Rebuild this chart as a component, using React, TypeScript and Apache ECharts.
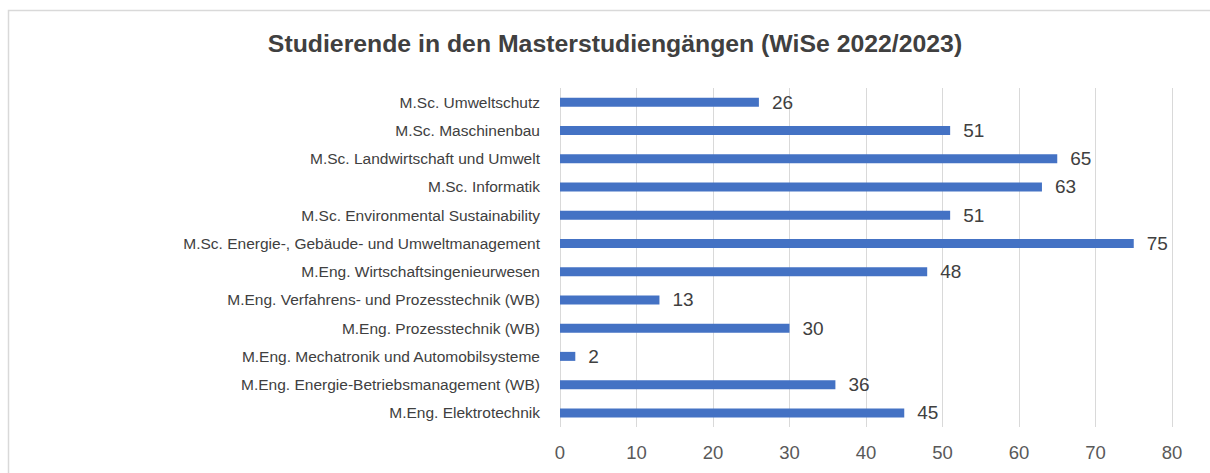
import React, { useEffect, useRef } from "react";
import * as echarts from "echarts";

const categories = [
  "M.Sc. Umweltschutz",
  "M.Sc. Maschinenbau",
  "M.Sc. Landwirtschaft und Umwelt",
  "M.Sc. Informatik",
  "M.Sc. Environmental Sustainability",
  "M.Sc. Energie-, Gebäude- und Umweltmanagement",
  "M.Eng. Wirtschaftsingenieurwesen",
  "M.Eng. Verfahrens- und Prozesstechnik (WB)",
  "M.Eng. Prozesstechnik (WB)",
  "M.Eng. Mechatronik und Automobilsysteme",
  "M.Eng. Energie-Betriebsmanagement (WB)",
  "M.Eng. Elektrotechnik",
];
const values = [26, 51, 65, 63, 51, 75, 48, 13, 30, 2, 36, 45];
const titleText = "Studierende in den Masterstudiengängen (WiSe 2022/2023)";

export default function App() {
  const ref = useRef<HTMLDivElement>(null);
  useEffect(() => {
    document.body.style.margin = "0";
    const chart = echarts.init(ref.current!, undefined, { renderer: "svg" });
    const font = "'Liberation Sans', Arial, Helvetica, sans-serif";
    chart.setOption({
      animation: false,
      backgroundColor: "#ffffff",
      textStyle: { fontFamily: font },
      graphic: [
        {
          type: "rect",
          shape: { x: 8.5, y: 10.5, width: 1300, height: 600 },
          style: { fill: "none", stroke: "#d9d9d9", lineWidth: 1.5 },
          silent: true,
          z: -1,
        },
      ],
      title: {
        text: titleText,
        left: 610,
        textAlign: "center",
        top: 26,
        textStyle: { fontFamily: font, fontSize: 24.8, fontWeight: "bold", color: "#404040" },
      },
      grid: { left: 560, right: 38, top: 88, bottom: 46, containLabel: false },
      xAxis: {
        type: "value",
        min: 0,
        max: 80,
        interval: 10,
        axisLine: { show: false },
        axisTick: { show: false },
        splitLine: { show: true, lineStyle: { color: "#d9d9d9", width: 1 } },
        axisLabel: { fontFamily: font, fontSize: 18.5, color: "#595959", margin: 16 },
      },
      yAxis: {
        type: "category",
        data: categories,
        inverse: true,
        axisLine: { show: false },
        axisTick: { show: false },
        axisLabel: { fontFamily: font, fontSize: 15.5, color: "#404040", margin: 20 },
      },
      series: [
        {
          type: "bar",
          data: values,
          barWidth: 9,
          itemStyle: { color: "#4472c4" },
          label: {
            show: true,
            position: "right",
            distance: 13,
            fontFamily: font,
            fontSize: 19,
            color: "#404040",
          },
        },
      ],
    });
    return () => chart.dispose();
  }, []);
  return <div ref={ref} style={{ width: 1210, height: 473 }} />;
}
